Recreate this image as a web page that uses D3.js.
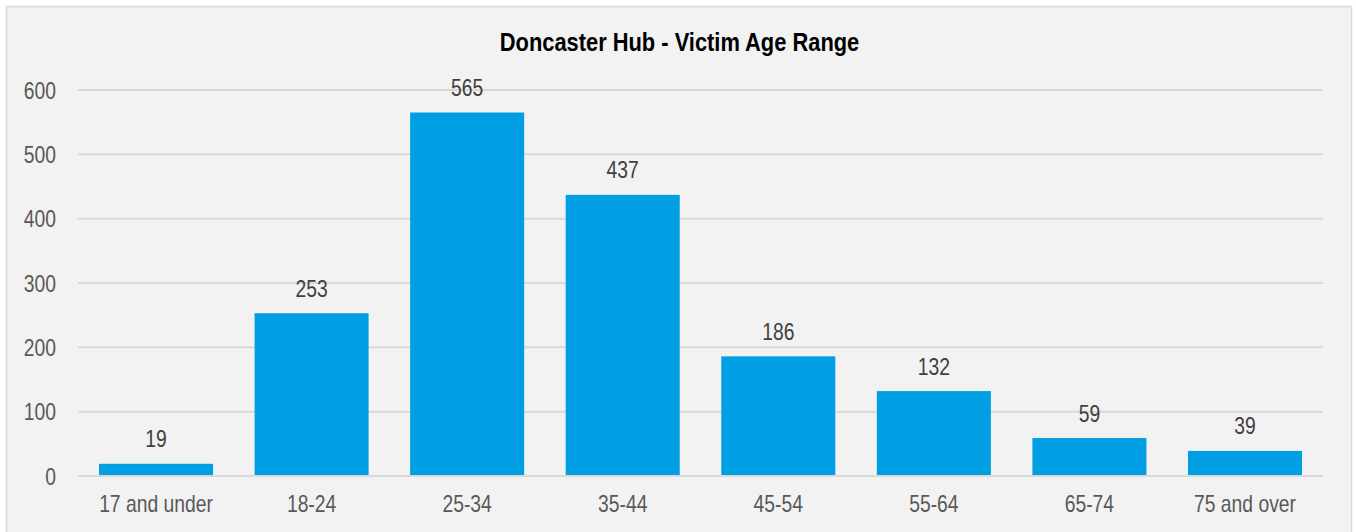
<!DOCTYPE html>
<html><head><meta charset="utf-8">
<script src="https://cdn.jsdelivr.net/npm/d3@7"></script>
<style>
html,body{margin:0;padding:0;background:#fff;}
svg{display:block;}
text{font-family:"Liberation Sans Narrow","Arial Narrow","Liberation Sans",Arial,sans-serif;}
</style></head><body>
<svg id="chart" width="1356" height="532"></svg>
<script>
const categories = ["17 and under","18-24","25-34","35-44","45-54","55-64","65-74","75 and over"];
const values = [19,253,565,437,186,132,59,39];
const yTicks = [0,100,200,300,400,500,600];
const title = "Doncaster Hub - Victim Age Range";

const svg = d3.select("#chart");
const m = {left:78, right:1323, top:90, bottom:476};
const NARROW = 0.84;

svg.append("rect").attr("x",6.5).attr("y",6.5).attr("width",1345).attr("height",560)
  .attr("fill","#f2f2f2").attr("stroke","#d9d9d9").attr("stroke-width",1.5);

const x = d3.scaleBand().domain(categories).range([m.left,m.right]).paddingInner(0.267).paddingOuter(0.135);
const y = d3.scaleLinear().domain([0,600]).range([m.bottom,m.top]);

// gridlines
svg.append("g").selectAll("line").data(yTicks).join("line")
  .attr("x1",m.left).attr("x2",m.right)
  .attr("y1",d=>y(d)).attr("y2",d=>y(d))
  .attr("stroke","#d9d9d9").attr("stroke-width",2);

// y axis labels (narrow via horizontal scale)
const yAxis = d3.axisLeft(y).tickValues(yTicks).tickSize(0).tickPadding(0);
const gy = svg.append("g").attr("transform",`translate(56,0)`).call(yAxis);
gy.select(".domain").remove();
gy.selectAll(".tick text").attr("font-size",23).attr("fill","#595959")
  .attr("x",0).attr("dy","0.36em")
  .attr("transform",`scale(${NARROW},1)`);

// bars
svg.append("g").selectAll("rect").data(values).join("rect")
  .attr("x",(d,i)=>x(categories[i]))
  .attr("width",x.bandwidth())
  .attr("y",d=>y(d))
  .attr("height",d=>y(0)-y(d))
  .attr("fill","#009fe3");

// value labels
svg.append("g").selectAll("text").data(values).join("text")
  .attr("transform",(d,i)=>`translate(${x(categories[i])+x.bandwidth()/2},${y(d)-16.5}) scale(${NARROW},1)`)
  .attr("text-anchor","middle").attr("font-size",23).attr("fill","#404040")
  .text(d=>d);

// baseline
svg.append("line").attr("x1",m.left).attr("x2",m.right).attr("y1",y(0)).attr("y2",y(0))
  .attr("stroke","#d9d9d9").attr("stroke-width",2);

// x axis labels
const xAxis = d3.axisBottom(x).tickSize(0).tickPadding(0);
const gx = svg.append("g").attr("transform",`translate(0,${m.bottom})`).call(xAxis);
gx.select(".domain").remove();
gx.selectAll(".tick text").attr("font-size",23).attr("fill","#595959")
  .attr("y",0).attr("dy",0)
  .attr("transform",`translate(0,36) scale(${NARROW},1)`);

// title
svg.append("text").attr("transform",`translate(679.5,51) scale(0.875,1)`).attr("text-anchor","middle")
  .attr("font-size",25).attr("font-weight","bold").attr("fill","#000").text(title);
</script>
</body></html>
